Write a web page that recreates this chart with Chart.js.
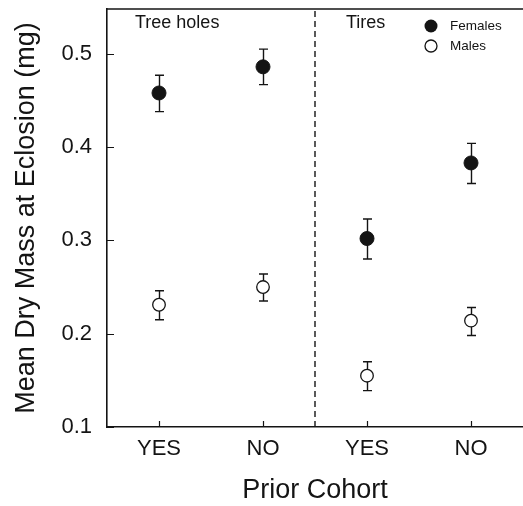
<!DOCTYPE html>
<html>
<head>
<meta charset="utf-8">
<script src="https://cdn.jsdelivr.net/npm/chart.js@4.4.0/dist/chart.umd.min.js"></script>
<style>
  html, body { margin: 0; padding: 0; background: #fff; }
  #wrap { width: 523px; height: 506px; }
</style>
</head>
<body>
<div id="wrap"><canvas id="massChart" width="523" height="506"></canvas></div>
<script>
const categories = ["YES", "NO", "YES", "NO"];
const habitats = ["Tree holes", "Tires"];
const seriesNames = ["Females", "Males"];
const femaleMean = [0.458, 0.486, 0.302, 0.383];
const femaleLow = [0.438, 0.467, 0.280, 0.361];
const femaleHigh = [0.477, 0.505, 0.323, 0.404];
const maleMean = [0.231, 0.250, 0.155, 0.214];
const maleLow = [0.215, 0.235, 0.139, 0.198];
const maleHigh = [0.246, 0.264, 0.170, 0.228];
const yTicks = [0.1, 0.2, 0.3, 0.4, 0.5];
const yTickLabels = ["0.1", "0.2", "0.3", "0.4", "0.5"];
const dividerX = 2.5;

const INK = "#141414";
const FONT = "'Liberation Sans', Arial, Helvetica, sans-serif";
Chart.defaults.font.family = FONT;
Chart.defaults.color = INK;

const toPoints = (values) => values.map((v, i) => ({ x: i + 1, y: v }));

// error bars go under the markers so the open circles hide the stem
const errorBars = {
  id: "errorBars",
  beforeDatasetsDraw(chart) {
    const { ctx } = chart;
    const { x, y } = chart.scales;
    ctx.save();
    ctx.strokeStyle = INK;
    ctx.lineWidth = 1.4;
    chart.data.datasets.forEach((ds) => {
      if (!ds.errLow) {
        return;
      }
      ds.data.forEach((pt, i) => {
        const px = Math.round(x.getPixelForValue(pt.x)) + 0.5;
        const top = y.getPixelForValue(ds.errHigh[i]);
        const bot = y.getPixelForValue(ds.errLow[i]);
        ctx.beginPath();
        ctx.moveTo(px, top);
        ctx.lineTo(px, bot);
        ctx.moveTo(px - 4.5, top);
        ctx.lineTo(px + 4.5, top);
        ctx.moveTo(px - 4.5, bot);
        ctx.lineTo(px + 4.5, bot);
        ctx.stroke();
      });
    });
    ctx.restore();
  },
};

// top frame line, inward tick marks, habitat captions and the legend
const frame = {
  id: "frame",
  afterDraw(chart) {
    const { ctx, chartArea } = chart;
    const { x, y } = chart.scales;
    ctx.save();
    ctx.strokeStyle = INK;
    ctx.lineWidth = 1.6;
    ctx.beginPath();
    ctx.moveTo(chartArea.left, chartArea.top);
    ctx.lineTo(chartArea.right, chartArea.top);
    ctx.stroke();

    ctx.lineWidth = 1.2;
    ctx.beginPath();
    yTicks.forEach((v) => {
      const py = Math.round(y.getPixelForValue(v)) + 0.5;
      ctx.moveTo(chartArea.left, py);
      ctx.lineTo(chartArea.left + 7, py);
    });
    categories.forEach((_, i) => {
      const px = Math.round(x.getPixelForValue(i + 1)) + 0.5;
      ctx.moveTo(px, chartArea.bottom);
      ctx.lineTo(px, chartArea.bottom - 6);
    });
    ctx.stroke();

    ctx.fillStyle = INK;
    ctx.textBaseline = "middle";
    ctx.textAlign = "left";
    ctx.font = "18px " + FONT;
    ctx.fillText(habitats[0], chartArea.left + 28, chartArea.top + 14);
    ctx.fillText(habitats[1], chartArea.left + 239, chartArea.top + 14);

    ctx.font = "13.5px " + FONT;
    seriesNames.forEach((name, i) => {
      const cy = chartArea.top + 17 + i * 20;
      const cx = chartArea.left + 324;
      ctx.beginPath();
      ctx.arc(cx, cy, i === 0 ? 6.5 : 6, 0, Math.PI * 2);
      if (i === 0) {
        ctx.fillStyle = INK;
        ctx.fill();
      } else {
        ctx.lineWidth = 1.3;
        ctx.stroke();
      }
      ctx.fillStyle = INK;
      ctx.fillText(name, cx + 19, cy);
    });
    ctx.restore();
  },
};

new Chart(document.getElementById("massChart"), {
  type: "scatter",
  data: {
    datasets: [
      {
        label: seriesNames[0],
        data: toPoints(femaleMean),
        errLow: femaleLow,
        errHigh: femaleHigh,
        pointRadius: 7,
        pointBackgroundColor: INK,
        pointBorderColor: INK,
        pointBorderWidth: 1,
      },
      {
        label: seriesNames[1],
        data: toPoints(maleMean),
        errLow: maleLow,
        errHigh: maleHigh,
        pointRadius: 6.3,
        pointBackgroundColor: "#fff",
        pointBorderColor: INK,
        pointBorderWidth: 1.3,
      },
      {
        type: "line",
        label: "divider",
        data: [
          { x: dividerX, y: 0.1 },
          { x: dividerX, y: 0.548 },
        ],
        borderColor: INK,
        borderWidth: 1.4,
        borderDash: [6, 4],
        pointRadius: 0,
        fill: false,
      },
    ],
  },
  options: {
    responsive: false,
    animation: false,
    devicePixelRatio: 1,
    layout: {
      autoPadding: false,
      padding: { top: 9, right: 0, bottom: 0, left: 0 },
    },
    plugins: {
      legend: { display: false },
      tooltip: { enabled: false },
    },
    scales: {
      x: {
        type: "linear",
        min: 0.5,
        max: 4.5,
        afterBuildTicks: (scale) => {
          scale.ticks = categories.map((_, i) => ({ value: i + 1 }));
        },
        afterFit: (scale) => {
          scale.height = 79;
          scale.paddingLeft = 0;
          scale.paddingRight = 0;
        },
        grid: { display: false, drawTicks: false },
        border: { display: true, color: INK, width: 1.6 },
        ticks: {
          padding: 9,
          color: INK,
          autoSkip: false,
          maxRotation: 0,
          font: { size: 22 },
          callback: (value) => categories[value - 1] ?? "",
        },
        title: {
          display: true,
          text: "Prior Cohort",
          color: INK,
          font: { size: 27, lineHeight: 1 },
          padding: { top: 0, bottom: 2 },
        },
      },
      y: {
        min: 0.1,
        max: 0.548,
        afterBuildTicks: (scale) => {
          scale.ticks = yTicks.map((v) => ({ value: v }));
        },
        afterFit: (scale) => {
          scale.width = 107;
          scale.paddingTop = 0;
          scale.paddingBottom = 0;
        },
        grid: { display: false, drawTicks: false },
        border: { display: true, color: INK, width: 1.6 },
        ticks: {
          padding: 15,
          color: INK,
          font: { size: 22 },
          callback: (value) => yTickLabels[yTicks.indexOf(value)] ?? "",
        },
        title: {
          display: true,
          text: "Mean Dry Mass at Eclosion (mg)",
          color: INK,
          font: { size: 27 },
          padding: { top: 10, bottom: 0 },
        },
      },
    },
  },
  plugins: [errorBars, frame],
});
</script>
</body>
</html>
